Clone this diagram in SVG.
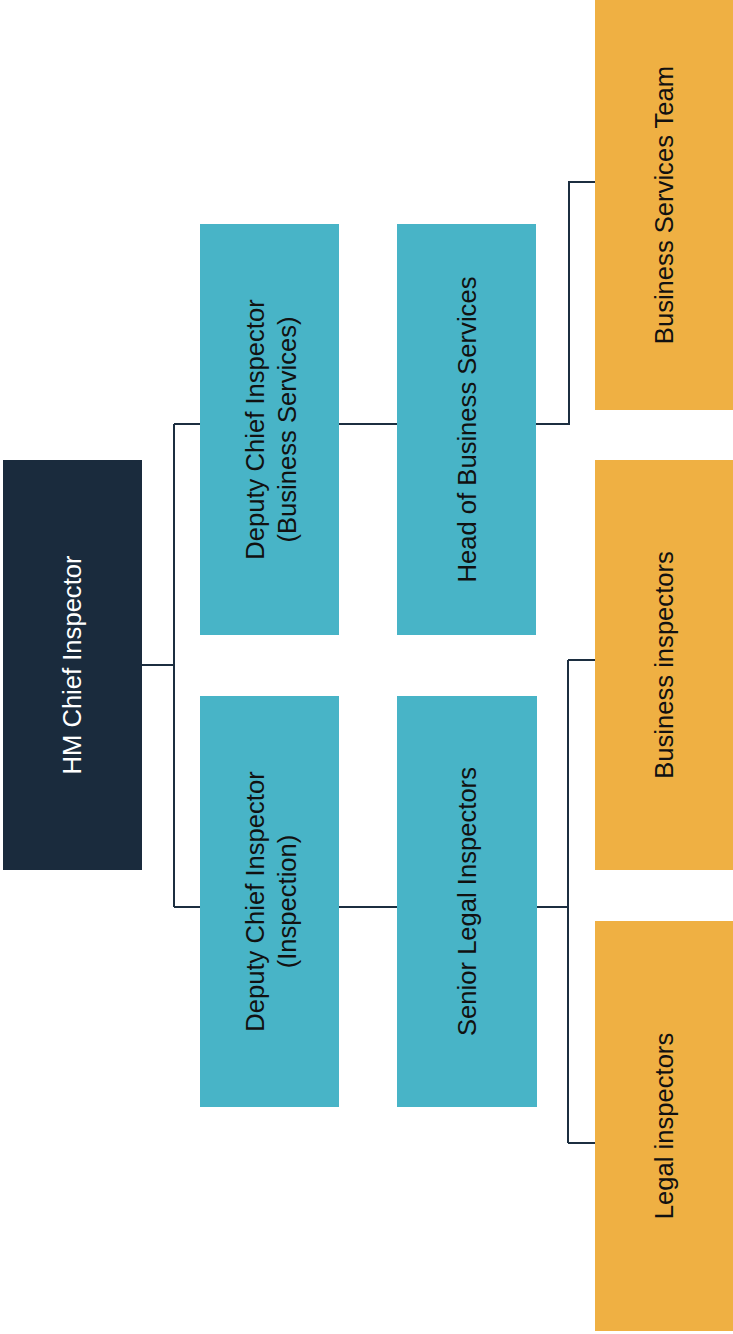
<svg xmlns="http://www.w3.org/2000/svg" width="733" height="1334" viewBox="0 0 733 1334">
<style>
.nav{fill:#1a2b3d}
.teal{fill:#48b4c7}
.org{fill:#efb043}
.t{font-family:"Liberation Sans",Arial,sans-serif;font-size:25.6px;text-anchor:middle;dominant-baseline:central;fill:#111}
.w{fill:#ffffff}
.c{fill:none;stroke:#1c2e40;stroke-width:2}
</style>
<rect width="733" height="1334" fill="#ffffff"/>
<g id="connectors" class="c">
<path d="M142,665 H174 M174,424 V907 M174,424 H200 M174,907 H200"/>
<path d="M339,424 H397 M339,907 H397"/>
<path d="M536,424 H569 V182 H595"/>
<path d="M537,907 H568 M568,660 V1143 M568,660 H595 M568,1143 H595"/>
</g>
<g id="hm">
<rect class="nav" x="3" y="460" width="139" height="410"/>
<text class="t w" transform="translate(72,665) rotate(-90)">HM Chief Inspector</text>
</g>
<g id="dci-bs">
<rect class="teal" x="200" y="224" width="139" height="411"/>
<text class="t" transform="translate(271,429.5) rotate(-90)"><tspan x="0" y="-16">Deputy Chief Inspector</tspan><tspan x="0" y="16">(Business Services)</tspan></text>
</g>
<g id="dci-insp">
<rect class="teal" x="200" y="696" width="139" height="411"/>
<text class="t" transform="translate(271,901.5) rotate(-90)"><tspan x="0" y="-16">Deputy Chief Inspector</tspan><tspan x="0" y="16">(Inspection)</tspan></text>
</g>
<g id="head-bs">
<rect class="teal" x="397" y="224" width="139" height="411"/>
<text class="t" transform="translate(467,429.5) rotate(-90)">Head of Business Services</text>
</g>
<g id="senior-legal">
<rect class="teal" x="397" y="696" width="140" height="411"/>
<text class="t" transform="translate(467,901.5) rotate(-90)">Senior Legal Inspectors</text>
</g>
<g id="bs-team">
<rect class="org" x="595" y="0" width="138" height="410"/>
<text class="t" transform="translate(664,205) rotate(-90)">Business Services Team</text>
</g>
<g id="business-inspectors">
<rect class="org" x="595" y="460" width="138" height="410"/>
<text class="t" transform="translate(664,665) rotate(-90)">Business inspectors</text>
</g>
<g id="legal-inspectors">
<rect class="org" x="595" y="921" width="138" height="410"/>
<text class="t" transform="translate(664,1126) rotate(-90)">Legal inspectors</text>
</g>
</svg>
